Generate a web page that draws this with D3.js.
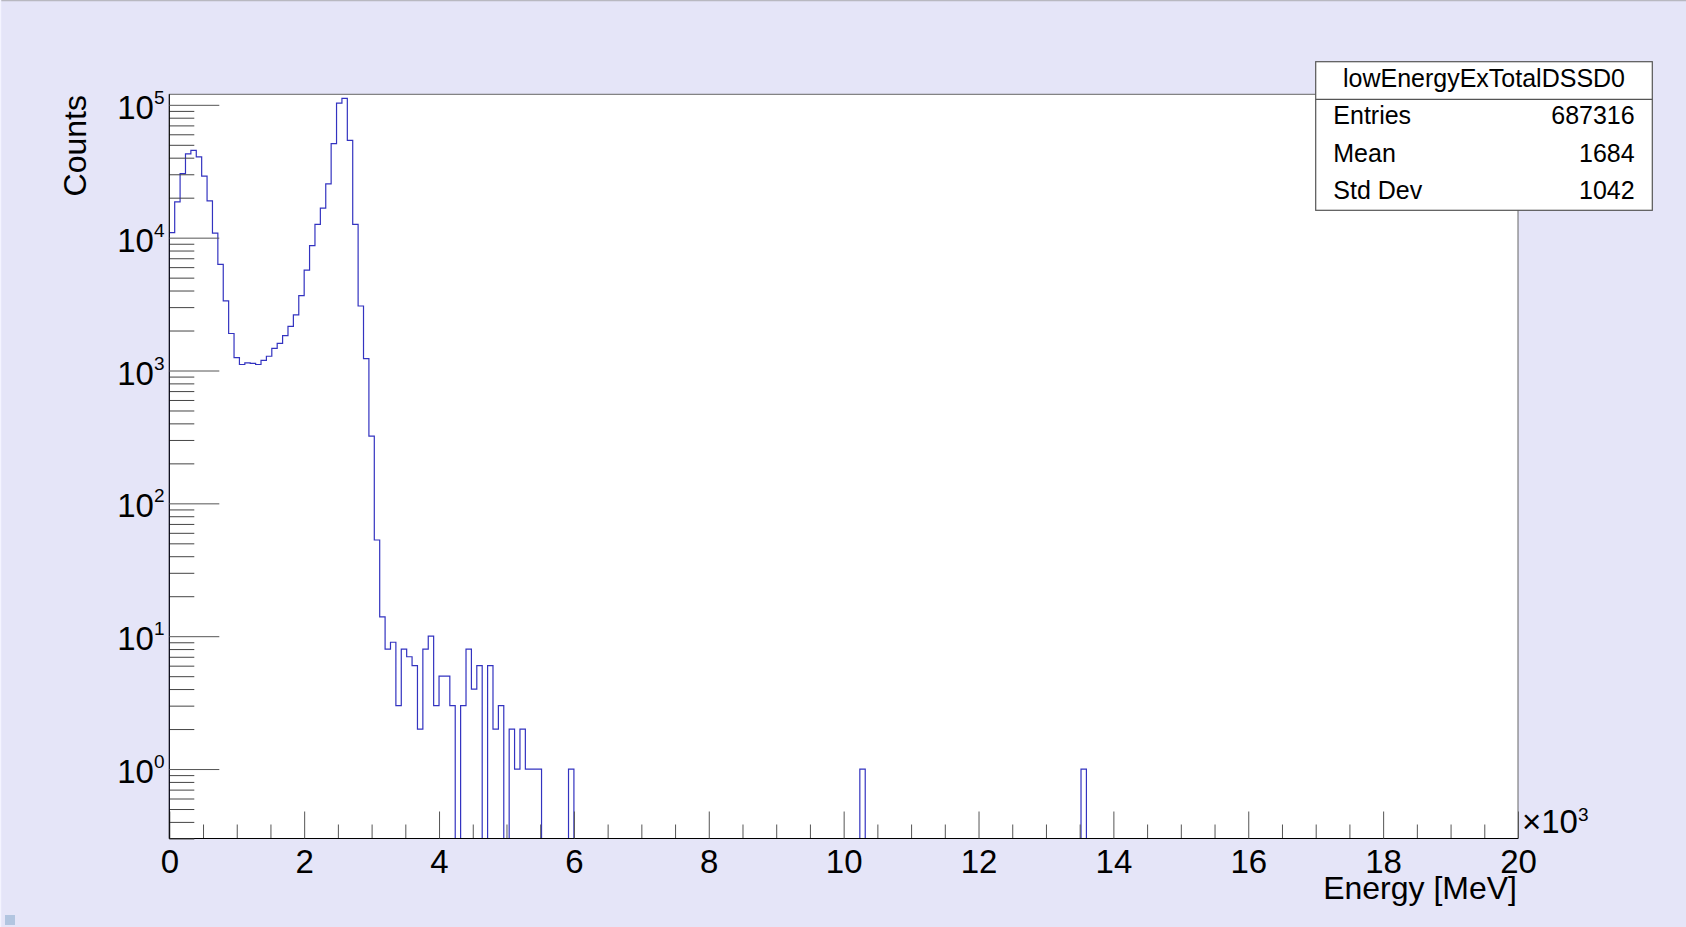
<!DOCTYPE html>
<html>
<head>
<meta charset="utf-8">
<script src="https://cdn.jsdelivr.net/npm/d3@7"></script>
<style>
  body { margin: 0; background: #e5e5f8; }
  svg { display: block; font-family: "Liberation Sans", Arial, sans-serif; }
</style>
</head>
<body>
<div id="chart"></div>
<script>
// histogram settings (250 bins of 80 keV, 0 - 20 MeV)
const nBins = 250;
const binWidth = 80;

// counts per bin, bins 0..74 (rest are empty except the isolated ones below)
const lowBinCounts = [
  10900, 18600, 30300, 42800, 45400, 40500, 29100, 18900, 10800, 6300,
  3340, 1900, 1250, 1110, 1140, 1130, 1110, 1190, 1280, 1470,
  1600, 1830, 2150, 2620, 3660, 5700, 8700, 12600, 16700, 25400,
  51000, 103000, 112000, 54000, 12600, 3060, 1230, 321, 53, 14,
  8, 9, 3, 8, 7, 6, 2, 8, 10, 3,
  5, 5, 3, 0, 3, 8, 4, 6, 0, 6,
  2, 3, 0, 2, 1, 2, 1, 1, 1, 0,
  0, 0, 0, 0, 1
];
// lone single counts further up
const isolatedBinEnergies = [10240, 13520];
const isolatedBinCounts = [1, 1];

// axis ticks
const xMajorTicks = [0, 2000, 4000, 6000, 8000, 10000, 12000, 14000, 16000, 18000, 20000];
const yDecades = [1, 10, 100, 1000, 10000, 100000];

// stats box
const statsTitle = "lowEnergyExTotalDSSD0";
const statsLabels = ["Entries", "Mean", "Std Dev"];
const statsValues = ["687316", "1684", "1042"];

// build full bin array
const counts = new Array(nBins).fill(0);
lowBinCounts.forEach((c, i) => counts[i] = c);
isolatedBinEnergies.forEach((e, i) => counts[Math.round(e / binWidth)] = isolatedBinCounts[i]);

const width = 1686;
const height = 927;
const frame = { left: 169.3, right: 1518, top: 94.3, bottom: 838.5 };
const labelSize = 33;
const supSize = 19;

const svg = d3.select("#chart").append("svg")
  .attr("width", width)
  .attr("height", height);

// canvas background + borders
svg.append("rect").attr("width", width).attr("height", height).attr("fill", "#e5e5f8");
svg.append("line").attr("x1", 0).attr("x2", width).attr("y1", 0.5).attr("y2", 0.5)
  .attr("stroke", "#b8b8c0").attr("stroke-width", 1.5);
svg.append("line").attr("x1", 0.5).attr("x2", 0.5).attr("y1", 0).attr("y2", height)
  .attr("stroke", "#f4f4ff").attr("stroke-width", 1.5);
svg.append("rect").attr("x", 5).attr("y", 915).attr("width", 10).attr("height", 10)
  .attr("fill", "#b2c5e0");

// scales
const x = d3.scaleLinear().domain([0, nBins * binWidth]).range([frame.left, frame.right]);
const y = d3.scaleLog().domain([0.3, 1.2e5]).range([frame.bottom, frame.top]).clamp(true);

// frame
svg.append("rect")
  .attr("x", frame.left).attr("y", frame.top)
  .attr("width", frame.right - frame.left).attr("height", frame.bottom - frame.top)
  .attr("fill", "#fff").attr("stroke", "#666").attr("stroke-width", 1);

// histogram outline
svg.append("clipPath").attr("id", "clip")
  .append("rect")
  .attr("x", frame.left).attr("y", frame.top)
  .attr("width", frame.right - frame.left).attr("height", frame.bottom - frame.top);

let pts = [[x(0), frame.bottom]];
counts.forEach((c, i) => {
  const yy = c > 0 ? y(c) : frame.bottom;
  pts.push([x(i * binWidth), yy]);
  pts.push([x((i + 1) * binWidth), yy]);
});
pts.push([x(nBins * binWidth), frame.bottom]);

svg.append("path")
  .attr("clip-path", "url(#clip)")
  .attr("d", d3.line()(pts))
  .attr("fill", "none")
  .attr("stroke", "#3333c0")
  .attr("stroke-width", 1.2);

// x axis: ticks point inwards like ROOT
const xMinor = d3.range(0, 20001, 500).filter(v => v % 2000 !== 0);
svg.append("g")
  .attr("transform", `translate(0,${frame.bottom})`)
  .call(d3.axisBottom(x).tickValues(xMinor).tickSize(-14).tickFormat(""))
  .call(g => g.select(".domain").remove())
  .call(g => g.selectAll(".tick line").attr("stroke", "#555"));

svg.append("g")
  .attr("transform", `translate(0,${frame.bottom})`)
  .call(d3.axisBottom(x).tickValues(xMajorTicks).tickSize(-27).tickPadding(11)
    .tickFormat(d => d / 1000))
  .call(g => g.select(".domain").attr("stroke", "#000").attr("d", `M${frame.left},0H${frame.right}`))
  .call(g => g.selectAll(".tick line").attr("stroke", "#555"))
  .call(g => g.selectAll(".tick text").attr("font-size", labelSize).attr("fill", "#000")
    .attr("font-family", "Liberation Sans, Arial, sans-serif"));

// x10^3 multiplier
const mult = svg.append("text")
  .attr("x", 1522).attr("y", 833)
  .attr("font-size", labelSize);
mult.append("tspan").text("\u00d710");
mult.append("tspan").attr("dy", -12).attr("font-size", supSize).text("3");

// y axis minor ticks (2..9 per decade)
const yMinor = [];
for (let e = -1; e <= 5; e++) {
  for (let m = 2; m <= 9; m++) {
    const v = m * Math.pow(10, e);
    if (v >= 0.3 && v <= 1.2e5) yMinor.push(v);
  }
}
svg.append("g")
  .attr("transform", `translate(${frame.left},0)`)
  .call(d3.axisLeft(y).tickValues(yMinor).tickSize(-25).tickFormat(""))
  .call(g => g.select(".domain").remove())
  .call(g => g.selectAll(".tick line").attr("stroke", "#444"));

svg.append("g")
  .attr("transform", `translate(${frame.left},0)`)
  .call(d3.axisLeft(y).tickValues(yDecades).tickSize(-50).tickFormat(""))
  .call(g => g.select(".domain").attr("stroke", "#000").attr("d", `M0,${frame.top}V${frame.bottom}`))
  .call(g => g.selectAll(".tick line").attr("stroke", "#555"));

// y labels as 10^n
const yLab = svg.append("g").selectAll("text")
  .data(yDecades)
  .join("text")
  .attr("x", 164.5)
  .attr("y", d => y(d) + 14)
  .attr("text-anchor", "end")
  .attr("font-size", labelSize);
yLab.append("tspan").text("10");
yLab.append("tspan").attr("dy", -15).attr("font-size", supSize).text(d => Math.round(Math.log10(d)));

// axis titles
svg.append("text")
  .attr("x", 1517).attr("y", 899)
  .attr("text-anchor", "end")
  .attr("font-size", 32)
  .text("Energy [MeV]");

svg.append("text")
  .attr("transform", "translate(86,95) rotate(-90)")
  .attr("text-anchor", "end")
  .attr("font-size", 32)
  .text("Counts");

// stats box
const box = { x: 1315.7, y: 61.7, w: 336.6, h: 148.6 };
const stats = svg.append("g");
stats.append("rect")
  .attr("x", box.x).attr("y", box.y).attr("width", box.w).attr("height", box.h)
  .attr("fill", "#fff").attr("stroke", "#555").attr("stroke-width", 1.2);
stats.append("line")
  .attr("x1", box.x).attr("x2", box.x + box.w).attr("y1", 99.3).attr("y2", 99.3)
  .attr("stroke", "#555").attr("stroke-width", 1.2);
stats.append("text")
  .attr("x", box.x + box.w / 2).attr("y", 87.3)
  .attr("text-anchor", "middle").attr("font-size", 25)
  .text(statsTitle);

const rowY = [124, 162.3, 199];
stats.selectAll(".lab").data(statsLabels).join("text")
  .attr("class", "lab")
  .attr("x", 1333.3).attr("y", (d, i) => rowY[i])
  .attr("font-size", 25).text(d => d);
stats.selectAll(".val").data(statsValues).join("text")
  .attr("class", "val")
  .attr("x", 1634.7).attr("y", (d, i) => rowY[i])
  .attr("text-anchor", "end")
  .attr("font-size", 25).text(d => d);
</script>
</body>
</html>
